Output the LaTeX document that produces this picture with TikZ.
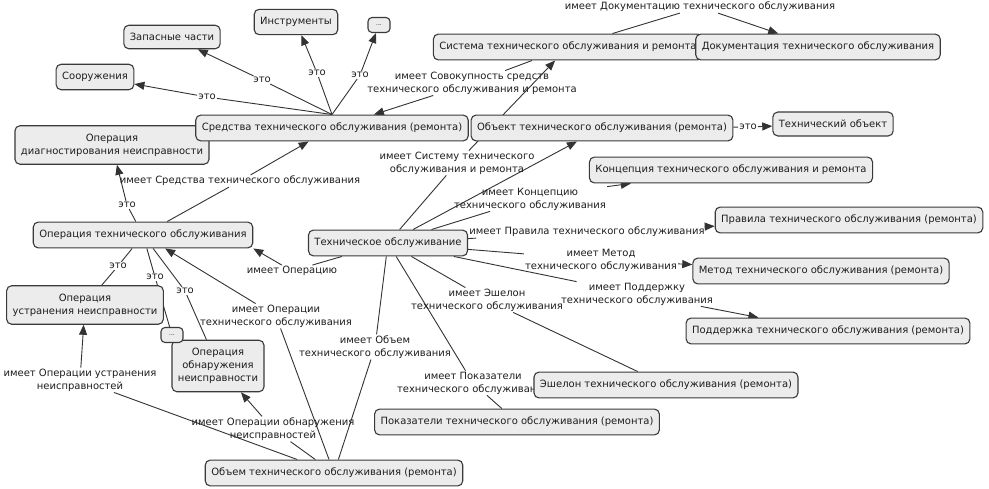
\documentclass[tikz,border=0pt]{standalone}
\usepackage{fontspec}
\setmainfont{DejaVu Sans}
\usetikzlibrary{arrows.meta}
\pgfdeclarelayer{bg}
\pgfdeclarelayer{edges}
\pgfsetlayers{bg,edges,main}
\definecolor{boxfill}{HTML}{ECECEC}
\definecolor{boxline}{HTML}{3A3A3A}
\definecolor{edgecol}{HTML}{333333}
\definecolor{txt}{HTML}{1E1E1E}
\tikzset{
  box/.style={draw=boxline, fill=boxfill, line width=1.1pt, rounded corners=5pt,
    align=center, inner xsep=6pt, inner ysep=8pt, text=txt,
    font=\fontsize{10}{13}\selectfont},
  dotsbox/.style={draw=boxline, fill=boxfill, line width=1.1pt, rounded corners=4pt,
    minimum width=22pt, minimum height=15pt, inner sep=1pt, text=txt,
    font=\fontsize{6}{7}\selectfont},
  lbl/.style={align=center, inner sep=1pt, text=txt, font=\fontsize{10}{13}\selectfont},
  ln/.style={draw=edgecol, line width=0.9pt},
  arr/.style={ln, -{Triangle[length=10pt,width=8pt]}}
}
\begin{document}
\begin{tikzpicture}[x=1pt,y=-1pt]
\useasboundingbox (0,0) rectangle (989,489);
\begin{pgfonlayer}{bg}
\fill[white] (0,0) rectangle (989,489);
\end{pgfonlayer}
% link labels
\node[lbl] (l_soor)  at (207,97)  {это};
\node[lbl] (l_zap)   at (262,80)  {это};
\node[lbl] (l_instr) at (317,73)  {это};
\node[lbl] (l_dots1) at (360,75)  {это};
\node[lbl] (l_sov)   at (472,83)  {имеет Совокупность средств\\технического обслуживания и ремонта};
\node[lbl] (l_dok)   at (700,7)   {имеет Документацию технического обслуживания};
\node[lbl] (l_sist)  at (457,163) {имеет Систему технического\\обслуживания и ремонта};
\node[lbl] (l_tobj)  at (748,127) {это};
\node[lbl] (l_konc)  at (530,199) {имеет Концепцию\\технического обслуживания};
\node[lbl] (l_prav)  at (587,232) {имеет Правила технического обслуживания};
\node[lbl] (l_metod) at (601,260) {имеет Метод\\технического обслуживания};
\node[lbl] (l_podd)  at (637,294) {имеет Поддержку\\технического обслуживания};
\node[lbl] (l_eshel) at (487,300) {имеет Эшелон\\технического обслуживания};
\node[lbl] (l_pokaz) at (473,383) {имеет Показатели\\технического обслуживания};
\node[lbl] (l_obem)  at (375,347) {имеет Объем\\технического обслуживания};
\node[lbl] (l_opto)  at (292,271) {имеет Операцию};
\node[lbl] (l_oper)  at (276,316) {имеет Операции\\технического обслуживания};
\node[lbl] (l_sredop) at (240,181) {имеет Средства технического обслуживания};
\node[lbl] (l_diag)  at (127,205) {это};
\node[lbl] (l_ustr)  at (118,266) {это};
\node[lbl] (l_dots2) at (155,277) {это};
\node[lbl] (l_obn)   at (185,291) {это};
\node[lbl] (l_obnar) at (273,429) {имеет Операции обнаружения\\неисправностей};
\node[lbl] (l_ustrn) at (80,380)  {имеет Операции устранения\\неисправностей};
% concepts
\node[box] (diag)  at (112,145) {Операция\\диагностирования неисправности};
\node[box] (zap)   at (172,37)  {Запасные части};
\node[box] (instr) at (296,22)  {Инструменты};
\node[dotsbox] (dots1) at (379,25) {...};
\node[box] (soor)  at (95,77)   {Сооружения};
\node[box] (sist)  at (568,47)  {Система технического обслуживания и ремонта};
\node[box] (dok)   at (818,47)  {Документация технического обслуживания};
\node[box] (sred)  at (332,128) {Средства технического обслуживания (ремонта)};
\node[box] (obj)   at (602,128) {Объект технического обслуживания (ремонта)};
\node[box] (tobj)  at (833,124) {Технический объект};
\node[box] (konc)  at (731,170) {Концепция технического обслуживания и ремонта};
\node[box] (opto)  at (143,235) {Операция технического обслуживания};
\node[box] (to)    at (388,243) {Техническое обслуживание};
\node[box] (prav)  at (849,220) {Правила технического обслуживания (ремонта)};
\node[box] (metod) at (821,271) {Метод технического обслуживания (ремонта)};
\node[box] (podd)  at (828,331) {Поддержка технического обслуживания (ремонта)};
\node[box] (ustr)  at (85,305)  {Операция\\устранения неисправности};
\node[box] (obn)   at (218,366) {Операция\\обнаружения\\неисправности};
\node[dotsbox] (dots2) at (172,335) {...};
\node[box] (eshel) at (666,385) {Эшелон технического обслуживания (ремонта)};
\node[box] (pokaz) at (517,422) {Показатели технического обслуживания (ремонта)};
\node[box] (obem)  at (334,473) {Объем технического обслуживания (ремонта)};
% connectors
\begin{pgfonlayer}{edges}
\draw[ln] (sred.north) -- (l_soor);  \draw[arr] (l_soor) -- (soor);
\draw[ln] (sred.north) -- (l_zap);   \draw[arr] (l_zap) -- (zap);
\draw[ln] (sred.north) -- (l_instr); \draw[arr] (l_instr) -- (instr);
\draw[ln] (sred.north) -- (l_dots1); \draw[arr] (l_dots1) -- (dots1);
\draw[ln] (sist) -- (l_sov);   \draw[arr] (l_sov) -- (sred);
\draw[ln] (sist) -- (l_dok);   \draw[arr] (l_dok) -- (dok);
\draw[ln] (to) -- (l_sist);    \draw[arr] (l_sist) -- (sist);
\draw[arr] (to) -- (obj);
\draw[ln] (obj) -- (l_tobj);   \draw[arr] (l_tobj) -- (tobj);
\draw[ln] (to) -- (l_konc);    \draw[arr] (l_konc.north east) -- ([xshift=42pt]konc.south west);
\draw[ln] (to) -- (l_prav);    \draw[arr] (l_prav) -- (prav);
\draw[ln] (to) -- (l_metod);   \draw[arr] (l_metod) -- (metod);
\draw[ln] (to) -- (l_podd);    \draw[arr] (l_podd) -- (podd);
\draw[ln] (to) -- (l_eshel);   \draw[ln] (l_eshel) -- (eshel);
\draw[ln] (to) -- (l_pokaz);   \draw[ln] (l_pokaz) -- (pokaz);
\draw[ln] (to) -- (l_obem);    \draw[ln] (l_obem) -- (obem);
\draw[ln] (to) -- (l_opto);    \draw[arr] (l_opto) -- (opto.south east);
\draw[ln] (obem) -- (l_oper);  \draw[arr] (l_oper) -- (opto);
\draw[ln] (obem) -- (l_obnar); \draw[arr] (l_obnar) -- (obn);
\draw[ln] (obem) -- (l_ustrn); \draw[arr] (l_ustrn) -- (ustr);
\draw[ln] (opto) -- (l_diag);  \draw[arr] (l_diag) -- (diag);
\draw[ln] (opto) -- (l_ustr);  \draw[ln] (l_ustr) -- (ustr);
\draw[ln] (opto) -- (l_dots2); \draw[ln] (l_dots2) -- (dots2);
\draw[ln] (opto) -- (l_obn);   \draw[ln] (l_obn) -- (obn);
\draw[ln] (opto) -- (l_sredop); \draw[arr] (l_sredop) -- (sred);
\end{pgfonlayer}
\end{tikzpicture}
\end{document}
